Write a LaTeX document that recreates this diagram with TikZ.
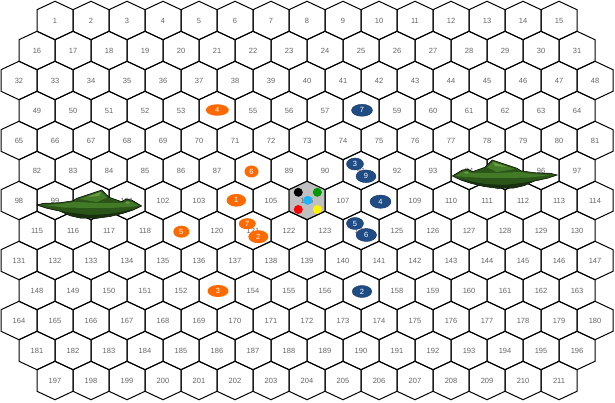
\documentclass[tikz,border=0pt]{standalone}
\usepackage{fontspec}
\setmainfont{Liberation Sans}
\usetikzlibrary{shapes.geometric}
\definecolor{numgray}{HTML}{666666}
\definecolor{orangemk}{HTML}{FF6A00}
\definecolor{bluemk}{HTML}{1F4C85}
\definecolor{hexgray}{HTML}{C0C0C0}
\definecolor{shipdark}{HTML}{2A5418}
\definecolor{shipmid}{HTML}{437A27}
\definecolor{shiplight}{HTML}{6A9C46}
\definecolor{shipshadow}{HTML}{18300E}
\definecolor{gemgreen}{HTML}{009A00}
\definecolor{gemcyan}{HTML}{1AB4FF}
\tikzset{
  hexline/.style={draw=black, line width=1pt},
  numtxt/.style={text=numgray, font=\fontsize{7.5}{8}\selectfont, inner sep=0pt},
  mktxt/.style={text=white, font=\fontsize{7.5}{8}\selectfont, inner sep=0pt, ellipse},
  omark/.style={mktxt, fill=orangemk},
  bmark/.style={mktxt, fill=bluemk, draw=bluemk!75!black, line width=0.4pt},
  gemdot/.style={circle, inner sep=0pt, minimum size=9pt},
  ship/.pic={
    \fill[shipdark, draw=black, line width=0.5pt]
      (-52.3,0) -- (-45.7,-1.7) -- (-29,-2.3) -- (-15.7,-4.3) -- (-12.3,-6.7)
      -- (12.7,-15) -- (20.3,-7.7) -- (32.7,-3.3) -- (37,-6) -- (42.7,-5)
      -- (52.7,1) -- (44.3,5) -- (34.3,8.3) -- (21,11.5) -- (7.7,13.3)
      -- (-9,13) -- (-19,10.7) -- (-29,6.2) -- (-42.3,3.3) -- cycle;
    \fill[shipmid] (-10,-6) -- (12,-13.5) -- (18,-7.5) -- (8,-3) -- cycle;
    \fill[shiplight] (-2,-8) -- (12,-13) -- (10,-9) -- cycle;
    \fill[shipmid] (-46,0) -- (-29,-1) -- (-14,-3) -- (10,-2) -- (32,-2) -- (42,-3.5) -- (50,1)
      -- (40,2) -- (20,3) -- (0,3) -- (-25,2.5) -- cycle;
    \fill[shipshadow] (-40,3.5) -- (-20,7.5) -- (0,10) -- (20,9) -- (34,6.5) -- (44,4)
      -- (34,8.3) -- (21,11.5) -- (7.7,13.3) -- (-9,13) -- (-19,10.7) -- (-29,6.2) -- cycle;
    \fill[shiplight] (38.5,-2.5) ellipse (2.2pt and 1.2pt);
  }
}
\begin{document}
\begin{tikzpicture}[x=1pt,y=-1pt]
\useasboundingbox (0,0) rectangle (615,403);
\fill[white] (0,0) rectangle (615,403);
% hex grid
\foreach \r/\xs/\cnt/\first in {1/55/15/1, 2/37/16/16, 3/19/17/32, 4/37/16/49, 5/19/17/65,
  6/37/16/82, 7/19/17/98, 8/37/16/115, 9/19/17/131, 10/37/16/148, 11/19/17/164,
  12/37/16/181, 13/55/15/197}{
  \pgfmathsetmacro\yy{20.5+30*(\r-1)}
  \foreach \k in {1,...,\cnt}{
    \pgfmathsetmacro\xx{\xs+36*(\k-1)}
    \pgfmathtruncatemacro\num{\first+\k-1}
    \ifnum\num=106
      \fill[hexgray] (\xx,\yy) +(0,-19.2) -- +(18,-10.8) -- +(18,10.8) -- +(0,19.2) -- +(-18,10.8) -- +(-18,-10.8) -- cycle;
    \fi
    \draw[hexline] (\xx,\yy) +(0,-19.2) -- +(18,-10.8) -- +(18,10.8) -- +(0,19.2) -- +(-18,10.8) -- +(-18,-10.8) -- cycle;
    % numbers fully hidden under a marker are not printed
    \pgfmathtruncatemacro\hidden{(\num==54)||(\num==58)||(\num==88)||(\num==100)||(\num==104)||(\num==108)||(\num==119)||(\num==153)||(\num==157)||(\num==95)}
    \ifnum\hidden=0
      \node[numtxt] (n\num) at (\xx,\yy) {\num};
    \fi
  }
}
% ships
\pic at (89,205) {ship};
\pic[xscale=-1] at (505,175) {ship};
% tokens on hex 106
\node[gemdot, fill=black] (gk) at (298.3,192.3) {};
\node[gemdot, fill=gemgreen] (gg) at (317.3,192.3) {};
\node[gemdot, fill=gemcyan] (gc) at (307.7,200.3) {};
\node[gemdot, fill=red] (gr) at (298.3,209.5) {};
\node[gemdot, fill=yellow] (gy) at (317.3,209.5) {};
% orange markers
\node[omark, minimum width=23pt, minimum height=11.5pt] (o4) at (217.3,110) {4};
\node[omark, minimum width=14pt, minimum height=12pt] (o6) at (251.5,171.5) {6};
\node[omark, minimum width=19.5pt, minimum height=12.7pt] (o1) at (236.3,200.3) {1};
\node[omark, minimum width=17pt, minimum height=11pt] (o7) at (247.3,223.7) {7};
\node[omark, minimum width=20pt, minimum height=13pt] (o2) at (258.3,236.7) {2};
\node[omark, minimum width=16pt, minimum height=12pt] (o5) at (181.3,231.7) {5};
\node[omark, minimum width=21pt, minimum height=12pt] (o3) at (218,291) {3};
% blue markers
\node[bmark, minimum width=21pt, minimum height=12pt] (b7) at (362,110.3) {7};
\node[bmark, minimum width=17pt, minimum height=12pt] (b3) at (355,164) {3};
\node[bmark, minimum width=20pt, minimum height=12.7pt] (b9) at (366,176.3) {9};
\node[bmark, minimum width=21pt, minimum height=13.3pt] (b4) at (380.5,201.7) {4};
\node[bmark, minimum width=17pt, minimum height=12pt] (b5) at (355,223.5) {5};
\node[bmark, minimum width=20.5pt, minimum height=13pt] (b6) at (366.3,235) {6};
\node[bmark, minimum width=19.5pt, minimum height=12pt] (b2) at (362,291.5) {2};
\end{tikzpicture}
\end{document}
